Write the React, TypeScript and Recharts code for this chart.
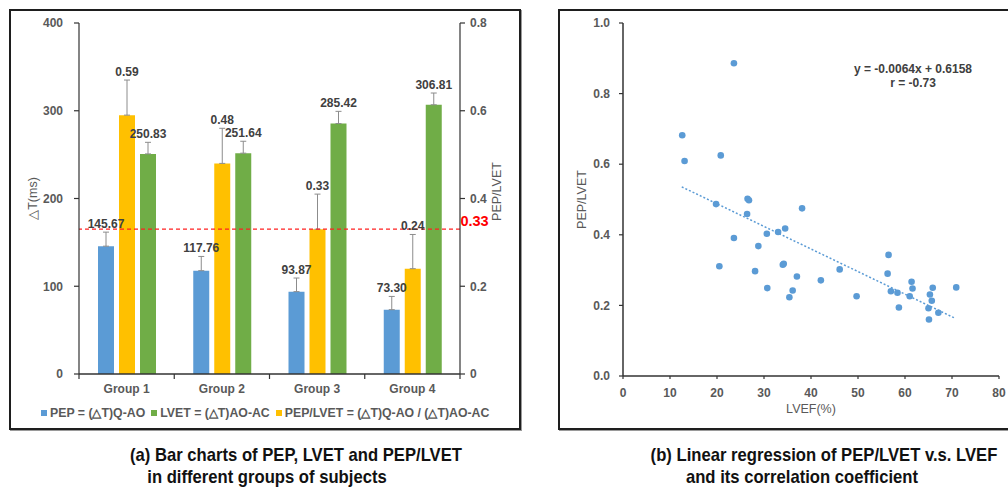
import React from 'react';
import {
  BarChart,
  Bar,
  XAxis,
  YAxis,
  ErrorBar,
  LabelList,
  ReferenceLine,
  ScatterChart,
  Scatter,
} from 'recharts';

// panel (a) – bar chart values
const groups = ['Group 1', 'Group 2', 'Group 3', 'Group 4'];
const pepMs = [145.67, 117.76, 93.87, 73.3];
const pepSd = [16, 16.2, 15.5, 15.1];
const lvetMs = [250.83, 251.64, 285.42, 306.81];
const lvetSd = [13.2, 13.6, 13.9, 13.4];
const ratio = [0.59, 0.48, 0.33, 0.24];
const ratioSd = [0.08, 0.08, 0.08, 0.078];
const msTicks = [0, 100, 200, 300, 400];
const ratioTicks = [0, 0.2, 0.4, 0.6, 0.8];
const cutoff = 0.33;

// panel (b) – scatter values
const lvef = [
  23.6, 12.6, 13.1, 20.8, 19.8, 26.5, 26.8, 26.4, 38.1, 23.6, 30.6, 33.0, 34.5, 28.8,
  20.5, 28.1, 34.2, 34.0, 37.0, 30.7, 36.1, 35.4, 42.1, 46.1, 49.7, 56.5, 56.3, 57.0,
  58.4, 58.7, 61.0, 61.4, 61.6, 65.3, 65.9, 65.7, 65.0, 65.1, 67.1, 70.9,
];
const pepLvet = [
  0.886, 0.682, 0.609, 0.625, 0.487, 0.502, 0.498, 0.459, 0.475, 0.391, 0.403, 0.408,
  0.418, 0.368, 0.311, 0.297, 0.318, 0.315, 0.282, 0.249, 0.242, 0.223, 0.271, 0.302,
  0.226, 0.343, 0.29, 0.24, 0.236, 0.194, 0.226, 0.267, 0.248, 0.231, 0.25, 0.213,
  0.192, 0.16, 0.179, 0.251,
];
const lvefTicks = [0, 10, 20, 30, 40, 50, 60, 70, 80];
const pepLvetTicks = [0, 0.2, 0.4, 0.6, 0.8, 1.0];
const fitSlope = -0.0064;
const fitIntercept = 0.6158;
const fitFrom = 12.5;
const fitTo = 70.8;

const BLUE = '#5b9bd5';
const GREEN = '#70ad47';
const YELLOW = '#ffc000';
const ERR = '#8c8c8c';
const AXIS = '#333333';
const TICK_TXT = '#595959';
const LABEL_TXT = '#404040';
const FONT = '"Liberation Sans", Arial, sans-serif';

// layout of panel (a)
const A_W = 530;
const A_H = 430;
const A_TOP = 23;
const A_BOTTOM = 26;
const A_XAXIS_H = 30;
const A_LEFT_W = 79;
const A_RIGHT_W = 70;
const A_PLOT_H = A_H - A_TOP - A_BOTTOM - A_XAXIS_H;
const A_BAND = (A_W - A_LEFT_W - A_RIGHT_W) / groups.length;

const barData = groups.map((g, i) => ({
  group: g,
  pep: pepMs[i],
  pepErr: [0, pepSd[i]],
  ratio: ratio[i],
  ratioErr: [0, ratioSd[i]],
  lvet: lvetMs[i],
  lvetErr: [0, lvetSd[i]],
}));

const scatterData = lvef.map((x, i) => ({ x, y: pepLvet[i] }));

const tickStyle = { fill: TICK_TXT, fontSize: 12, fontWeight: 700 };

const valueLabel = (errs: number[], pxPerUnit: number) => (props: any) => {
  const { x, y, width, index, value } = props;
  const i = index ?? 0;
  const top = Number(y) - errs[i] * pxPerUnit;
  return (
    <text
      x={Number(x) + Number(width) / 2}
      y={top - 4}
      textAnchor="middle"
      fill={LABEL_TXT}
      fontSize={12}
      fontWeight={700}
    >
      {Number(value).toFixed(2)}
    </text>
  );
};

const vTitle = (text: string, dx: number, dy = 0) => (props: any) => {
  const vb = props.viewBox;
  const cx = vb.x + dx;
  const cy = vb.y + vb.height / 2 + dy;
  return (
    <text
      x={cx}
      y={cy}
      transform={`rotate(-90 ${cx} ${cy})`}
      textAnchor="middle"
      dominantBaseline="central"
      fill={TICK_TXT}
      fontSize={12.5}
    >
      {text}
    </text>
  );
};

const hTitle = (text: string, dy: number) => (props: any) => {
  const vb = props.viewBox;
  return (
    <text x={vb.x + vb.width / 2} y={vb.y + dy} textAnchor="middle" fill={TICK_TXT} fontSize={12.5}>
      {text}
    </text>
  );
};

const GroupTick = (props: any) => {
  const { x, y, payload, index } = props;
  const half = A_BAND / 2;
  return (
    <g>
      <line x1={x - half} x2={x - half} y1={y} y2={y + 5} stroke={AXIS} strokeWidth={1.2} />
      {index === groups.length - 1 && (
        <line x1={x + half} x2={x + half} y1={y} y2={y + 5} stroke={AXIS} strokeWidth={1.2} />
      )}
      <text x={x} y={y + 19} textAnchor="middle" {...tickStyle}>
        {payload.value}
      </text>
    </g>
  );
};

const cutoffLabel = (props: any) => {
  const vb = props.viewBox;
  return (
    <text
      x={vb.x + vb.width + 14.5}
      y={vb.y - 3}
      textAnchor="middle"
      fill="#ff0000"
      fontSize={14.5}
      fontWeight={700}
    >
      {cutoff.toFixed(2)}
    </text>
  );
};

const Dot = (props: any) => <circle cx={props.cx} cy={props.cy} r={3.3} fill={BLUE} />;

const legendItems = [
  { label: 'PEP = (△T)Q-AO', color: BLUE },
  { label: 'LVET = (△T)AO-AC', color: GREEN },
  { label: 'PEP/LVET = (△T)Q-AO / (△T)AO-AC', color: YELLOW },
];

const captions = [
  { text: '(a) Bar charts of PEP, LVET and PEP/LVET', cx: 296, y: 461 },
  { text: 'in different groups of subjects', cx: 267, y: 483 },
  { text: '(b) Linear regression of PEP/LVET v.s. LVEF', cx: 824, y: 461 },
  { text: 'and its correlation coefficient', cx: 802, y: 483 },
];

const boxStyle: React.CSSProperties = {
  position: 'absolute',
  top: 9,
  height: 421,
  border: '2px solid #1e1e1e',
  boxSizing: 'border-box',
  boxShadow: '1px 1px 0 #9a9a9a',
};

export default function App() {
  return (
    <div
      style={{
        position: 'absolute',
        left: 0,
        top: 0,
        width: 1008,
        height: 490,
        overflow: 'hidden',
        background: '#fff',
        fontFamily: FONT,
      }}
    >
      <div style={{ ...boxStyle, left: 9, width: 512 }} />
      <div style={{ ...boxStyle, left: 558, width: 470 }} />

      <div style={{ position: 'absolute', left: 0, top: 0 }}>
        <BarChart
          width={A_W}
          height={A_H}
          data={barData}
          margin={{ top: A_TOP, right: 0, bottom: A_BOTTOM, left: 0 }}
          barSize={16}
          barGap={5}
        >
          <XAxis
            dataKey="group"
            height={A_XAXIS_H}
            interval={0}
            tickLine={false}
            tickSize={0}
            tickMargin={0}
            axisLine={{ stroke: AXIS, strokeWidth: 1.5 }}
            tick={<GroupTick />}
          />
          <YAxis
            yAxisId="ms"
            width={A_LEFT_W}
            domain={[0, 400]}
            ticks={msTicks}
            tickSize={5}
            tickMargin={11}
            axisLine={{ stroke: AXIS, strokeWidth: 1.2 }}
            tickLine={{ stroke: AXIS, strokeWidth: 1.2 }}
            tick={tickStyle}
            label={vTitle('△T(ms)', 33)}
          />
          <YAxis
            yAxisId="ratio"
            orientation="right"
            width={A_RIGHT_W}
            domain={[0, 0.8]}
            ticks={ratioTicks}
            tickSize={5}
            tickMargin={5}
            axisLine={{ stroke: AXIS, strokeWidth: 1.2 }}
            tickLine={{ stroke: AXIS, strokeWidth: 1.2 }}
            tick={tickStyle}
            label={vTitle('PEP/LVET', 37, -7)}
          />
          <Bar yAxisId="ms" dataKey="pep" fill={BLUE} isAnimationActive={false}>
            <ErrorBar dataKey="pepErr" width={3} stroke={ERR} strokeWidth={1} />
            <LabelList dataKey="pep" content={valueLabel(pepSd, A_PLOT_H / 400)} />
          </Bar>
          <Bar yAxisId="ratio" dataKey="ratio" fill={YELLOW} isAnimationActive={false}>
            <ErrorBar dataKey="ratioErr" width={3} stroke={ERR} strokeWidth={1} />
            <LabelList dataKey="ratio" content={valueLabel(ratioSd, A_PLOT_H / 0.8)} />
          </Bar>
          <Bar yAxisId="ms" dataKey="lvet" fill={GREEN} isAnimationActive={false}>
            <ErrorBar dataKey="lvetErr" width={3} stroke={ERR} strokeWidth={1} />
            <LabelList dataKey="lvet" content={valueLabel(lvetSd, A_PLOT_H / 400)} />
          </Bar>
          <ReferenceLine
            yAxisId="ratio"
            y={cutoff}
            stroke="#ff2020"
            strokeWidth={1.2}
            strokeDasharray="4 3"
            label={cutoffLabel}
          />
        </BarChart>
      </div>

      <div
        style={{
          position: 'absolute',
          left: 41,
          top: 406,
          display: 'flex',
          alignItems: 'center',
          fontSize: 12.3,
          fontWeight: 700,
          color: TICK_TXT,
          whiteSpace: 'nowrap',
        }}
      >
        {legendItems.map((it) => (
          <div key={it.label} style={{ display: 'flex', alignItems: 'center', marginRight: 6 }}>
            <span style={{ width: 6, height: 6, background: it.color, marginRight: 3 }} />
            <span>{it.label}</span>
          </div>
        ))}
      </div>

      <div style={{ position: 'absolute', left: 530, top: 0 }}>
        <ScatterChart width={478} height={430} margin={{ top: 23, right: 9, bottom: 14, left: 0 }}>
          <XAxis
            type="number"
            dataKey="x"
            domain={[0, 80]}
            ticks={lvefTicks}
            height={40}
            tickSize={3}
            tickMargin={9}
            axisLine={{ stroke: AXIS, strokeWidth: 1.5 }}
            tickLine={{ stroke: AXIS, strokeWidth: 1.2 }}
            tick={tickStyle}
            label={hTitle('LVEF(%)', 37)}
          />
          <YAxis
            type="number"
            dataKey="y"
            domain={[0, 1]}
            ticks={pepLvetTicks}
            width={93}
            tickSize={4}
            tickMargin={9}
            tickFormatter={(v: number) => v.toFixed(1)}
            axisLine={{ stroke: AXIS, strokeWidth: 1.5 }}
            tickLine={{ stroke: AXIS, strokeWidth: 1.2 }}
            tick={tickStyle}
            label={vTitle('PEP/LVET', 52)}
          />
          <ReferenceLine
            segment={[
              { x: fitFrom, y: fitSlope * fitFrom + fitIntercept },
              { x: fitTo, y: fitSlope * fitTo + fitIntercept },
            ]}
            stroke={BLUE}
            strokeWidth={1.5}
            strokeDasharray="2 2"
          />
          <Scatter data={scatterData} fill={BLUE} shape={<Dot />} isAnimationActive={false} />
        </ScatterChart>
      </div>

      <div
        style={{
          position: 'absolute',
          left: 833,
          top: 62,
          width: 160,
          textAlign: 'center',
          fontSize: 12,
          fontWeight: 700,
          lineHeight: '14px',
          color: LABEL_TXT,
        }}
      >
        <div>y = -0.0064x + 0.6158</div>
        <div>r = -0.73</div>
      </div>

      <svg
        width={1008}
        height={60}
        style={{ position: 'absolute', left: 0, top: 430 }}
        viewBox="0 430 1008 60"
      >
        {captions.map((c) => (
          <text
            key={c.text}
            x={c.cx}
            y={c.y}
            textAnchor="middle"
            fontSize={18}
            fontWeight={700}
            fill="#111"
            transform={`translate(${c.cx} 0) scale(0.925 1) translate(${-c.cx} 0)`}
          >
            {c.text}
          </text>
        ))}
      </svg>
    </div>
  );
}
